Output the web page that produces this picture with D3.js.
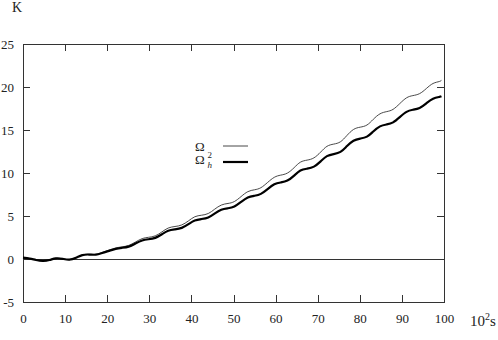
<!DOCTYPE html>
<html>
<head>
<meta charset="utf-8">
<script src="https://cdn.jsdelivr.net/npm/d3@7"></script>
<style>
  html, body { margin: 0; padding: 0; background: #fff; }
  svg { display: block; }
  text { font-family: "Liberation Serif", serif; fill: #222; }
</style>
</head>
<body>
<svg id="chart" width="498" height="340"></svg>
<script>
// ---- data ----
const sValues = [0.0, 1.6, 3.1, 4.7, 6.3, 7.8, 9.4, 11.0, 12.6, 14.1, 15.7, 17.3, 18.8, 20.4, 22.0, 23.5,
  25.1, 26.7, 28.3, 29.8, 31.4, 33.0, 34.5, 36.1, 37.7, 39.3, 40.8, 42.4, 44.0, 45.5, 47.1, 48.7,
  50.2, 51.8, 53.4, 55.0, 56.5, 58.1, 59.7, 61.2, 62.8, 64.4, 65.9, 67.5, 69.1, 70.7, 72.2, 73.8,
  75.4, 76.9, 78.5, 80.1, 81.7, 83.2, 84.8, 86.4, 87.9, 89.5, 91.1, 92.6, 94.2, 95.8, 97.4, 98.9, 99.4];
const omegaValues = [0.15, 0.05, -0.12, -0.22, -0.12, 0.08, 0.02, -0.08, 0.15, 0.47, 0.55, 0.54, 0.76, 1.03, 1.28, 1.41,
  1.58, 1.97, 2.37, 2.52, 2.69, 3.15, 3.6, 3.78, 3.96, 4.43, 4.91, 5.09, 5.29, 5.78, 6.27, 6.46,
  6.68, 7.26, 7.83, 8.05, 8.29, 8.9, 9.5, 9.75, 9.99, 10.62, 11.26, 11.5, 11.76, 12.43, 13.1, 13.36,
  13.63, 14.34, 15.06, 15.33, 15.58, 16.24, 16.88, 17.14, 17.4, 18.07, 18.74, 19.0, 19.23, 19.82, 20.41, 20.64, 20.8];
const omegaH2Values = [0.15, 0.05, -0.12, -0.22, -0.12, 0.08, 0.02, -0.08, 0.15, 0.45, 0.52, 0.5, 0.7, 0.95, 1.18, 1.3,
  1.44, 1.8, 2.16, 2.3, 2.46, 2.88, 3.29, 3.45, 3.62, 4.05, 4.48, 4.65, 4.83, 5.28, 5.73, 5.9,
  6.1, 6.63, 7.15, 7.35, 7.57, 8.13, 8.68, 8.9, 9.12, 9.7, 10.28, 10.5, 10.74, 11.35, 11.96, 12.2,
  12.45, 13.1, 13.75, 14.0, 14.23, 14.83, 15.42, 15.65, 15.89, 16.5, 17.11, 17.35, 17.56, 18.1, 18.64, 18.85, 18.92];
const xTicks = [0, 10, 20, 30, 40, 50, 60, 70, 80, 90, 100];
const yTicks = [-5, 0, 5, 10, 15, 20, 25];

// ---- layout ----
const FONT = "Liberation Serif";
const svg = d3.select("#chart");
const x = d3.scaleLinear().domain([0, 100]).range([23, 444]);
const y = d3.scaleLinear().domain([-5, 25]).range([302, 44]);
const frameColor = "#333";
const fmt = d => String(d);

function styleAxis(g) {
  g.attr("font-family", FONT).attr("font-size", 13);
  g.select(".domain").remove();
  g.selectAll(".tick line").attr("stroke", frameColor).attr("stroke-width", 1).attr("shape-rendering", "crispEdges");
  g.selectAll(".tick text").attr("fill", "#222");
}

svg.append("g").attr("transform", "translate(0,302)")
  .call(d3.axisBottom(x).tickValues(xTicks).tickSize(-7).tickPadding(12).tickFormat(fmt))
  .call(styleAxis);
svg.append("g").attr("transform", "translate(0,44)")
  .call(d3.axisTop(x).tickValues(xTicks).tickSize(-7).tickFormat(""))
  .call(styleAxis);
svg.append("g").attr("transform", "translate(23,0)")
  .call(d3.axisLeft(y).tickValues(yTicks).tickSize(-7).tickPadding(9).tickFormat(fmt))
  .call(styleAxis);
svg.append("g").attr("transform", "translate(444,0)")
  .call(d3.axisRight(y).tickValues(yTicks).tickSize(-7).tickFormat(""))
  .call(styleAxis);

// frame
svg.append("rect")
  .attr("x", x(0)).attr("y", y(25))
  .attr("width", x(100) - x(0)).attr("height", y(-5) - y(25))
  .attr("fill", "none").attr("stroke", frameColor).attr("stroke-width", 1)
  .attr("shape-rendering", "crispEdges");

// zero line
svg.append("line")
  .attr("x1", x(0)).attr("x2", x(100)).attr("y1", y(0)).attr("y2", y(0))
  .attr("stroke", frameColor).attr("stroke-width", 1).attr("shape-rendering", "crispEdges");

// curves
const line = d3.line().x(d => x(d[0])).y(d => y(d[1])).curve(d3.curveNatural);
svg.append("path").datum(sValues.map((s, i) => [s, omegaValues[i]]))
  .attr("d", line).attr("fill", "none").attr("stroke", "#333").attr("stroke-width", 0.9);
svg.append("path").datum(sValues.map((s, i) => [s, omegaH2Values[i]]))
  .attr("d", line).attr("fill", "none").attr("stroke", "#000").attr("stroke-width", 2.2);

// axis titles
svg.append("text").attr("x", 17).attr("y", 12).attr("text-anchor", "middle")
  .attr("font-family", FONT).attr("font-size", 14).text("K");
const xt = svg.append("text").attr("x", 470).attr("y", 326).attr("font-family", FONT).attr("font-size", 15);
xt.append("tspan").text("10");
xt.append("tspan").attr("dy", -6).attr("font-size", 10).text("2");
xt.append("tspan").attr("dy", 6).text("s");

// legend
const lg = svg.append("g").attr("font-family", FONT);
lg.append("text").attr("x", 195).attr("y", 151).attr("font-size", 13).text("Ω");
lg.append("line").attr("x1", 223).attr("x2", 248).attr("y1", 146).attr("y2", 146)
  .attr("stroke", "#333").attr("stroke-width", 0.9);
lg.append("text").attr("x", 195).attr("y", 164).attr("font-size", 13).text("Ω");
lg.append("text").attr("x", 207.5).attr("y", 158).attr("font-size", 9).text("2");
lg.append("text").attr("x", 207.5).attr("y", 168).attr("font-size", 9).attr("font-style", "italic").text("h");
lg.append("line").attr("x1", 223).attr("x2", 248).attr("y1", 162).attr("y2", 162)
  .attr("stroke", "#000").attr("stroke-width", 2.2);
</script>
</body>
</html>
